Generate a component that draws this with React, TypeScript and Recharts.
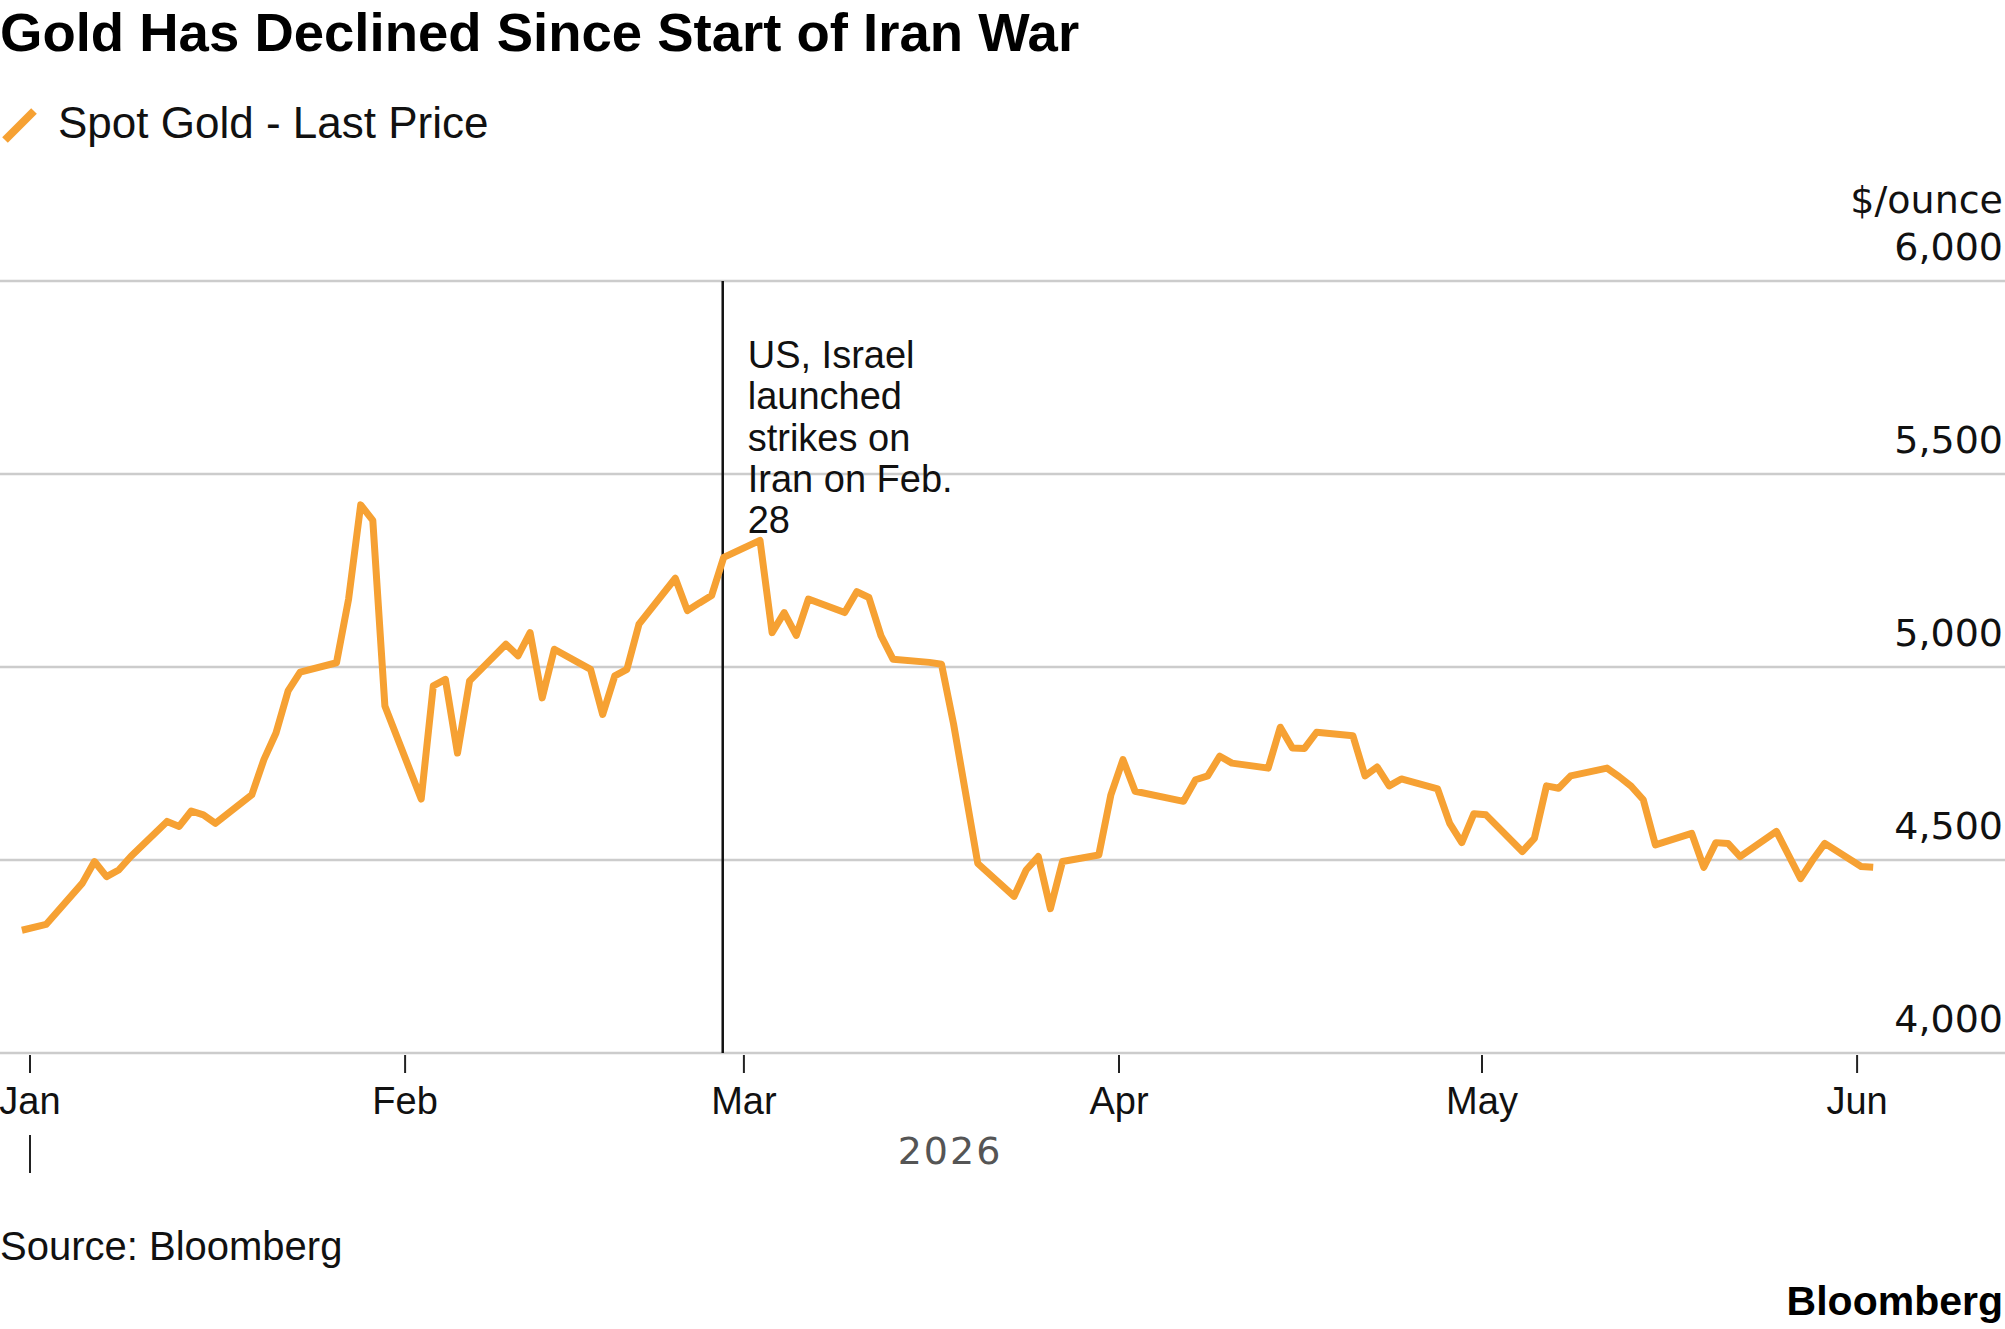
import { LineChart, Line, XAxis, YAxis, CartesianGrid, ReferenceLine } from "recharts";

// Spot gold, last price ($/ounce)
const dates = [
    "2025-12-31", "2026-01-02", "2026-01-05", "2026-01-06", "2026-01-07", "2026-01-08", "2026-01-09",
    "2026-01-12", "2026-01-13", "2026-01-14", "2026-01-15", "2026-01-16", "2026-01-19", "2026-01-20",
    "2026-01-21", "2026-01-22", "2026-01-23", "2026-01-26", "2026-01-27", "2026-01-28", "2026-01-29",
    "2026-01-30", "2026-02-02", "2026-02-03", "2026-02-04", "2026-02-05", "2026-02-06", "2026-02-09",
    "2026-02-10", "2026-02-11", "2026-02-12", "2026-02-13", "2026-02-16", "2026-02-17", "2026-02-18",
    "2026-02-19", "2026-02-20", "2026-02-23", "2026-02-24", "2026-02-25", "2026-02-26", "2026-02-27",
    "2026-03-02", "2026-03-03", "2026-03-04", "2026-03-05", "2026-03-06", "2026-03-09", "2026-03-10",
    "2026-03-11", "2026-03-12", "2026-03-13", "2026-03-16", "2026-03-17", "2026-03-18", "2026-03-19",
    "2026-03-20", "2026-03-23", "2026-03-24", "2026-03-25", "2026-03-26", "2026-03-27", "2026-03-30",
    "2026-03-31", "2026-04-01", "2026-04-02", "2026-04-06", "2026-04-07", "2026-04-08", "2026-04-09",
    "2026-04-10", "2026-04-13", "2026-04-14", "2026-04-15", "2026-04-16", "2026-04-17", "2026-04-20",
    "2026-04-21", "2026-04-22", "2026-04-23", "2026-04-24", "2026-04-27", "2026-04-28", "2026-04-29",
    "2026-04-30", "2026-05-01", "2026-05-04", "2026-05-05", "2026-05-06", "2026-05-07", "2026-05-08",
    "2026-05-11", "2026-05-12", "2026-05-13", "2026-05-14", "2026-05-15", "2026-05-18", "2026-05-19",
    "2026-05-20", "2026-05-21", "2026-05-22", "2026-05-25", "2026-05-26", "2026-05-27", "2026-05-28",
    "2026-05-29", "2026-06-01", "2026-06-02",
];

const prices = [
    4318, 4333, 4440, 4496, 4457, 4474, 4509,
    4600, 4587, 4627, 4617, 4595, 4669, 4760,
    4829, 4938, 4987, 5011, 5176, 5420, 5380,
    4899, 4658, 4951, 4968, 4777, 4964, 5059,
    5029, 5089, 4920, 5046, 4994, 4877, 4977,
    4994, 5111, 5230, 5146, 5166, 5185, 5284,
    5328, 5089, 5141, 5082, 5176, 5141, 5195,
    5180, 5081, 5020, 5012, 5007, 4852, 4672,
    4491, 4406, 4474, 4509, 4374, 4496, 4513,
    4669, 4760, 4678, 4652, 4708, 4718, 4769,
    4751, 4738, 4844, 4790, 4789, 4831, 4822,
    4718, 4741, 4692, 4710, 4684, 4595, 4545,
    4620, 4617, 4522, 4556, 4692, 4686, 4718,
    4738, 4716, 4691, 4656, 4539, 4569, 4481,
    4545, 4543, 4509, 4574, 4513, 4452, 4500,
    4543, 4483, 4481,
];

const monthStarts = ["2026-01-01", "2026-02-01", "2026-03-01", "2026-04-01", "2026-05-01", "2026-06-01"];
const monthLabels = ["Jan", "Feb", "Mar", "Apr", "May", "Jun"];
const priceTicks = [4000, 4500, 5000, 5500, 6000];
const eventDate = "2026-02-27";
const annotationLines = ["US, Israel", "launched", "strikes on", "Iran on Feb.", "28"];

const DAY_MS = 86400000;
const START = Date.UTC(2026, 0, 1);
// prices are stamped a few hours into the day, ticks at midnight
const POINT_SHIFT = 0.33;

const toDay = (s: string) => {
    const [y, m, d] = s.split("-").map(Number);
    return (Date.UTC(y, m - 1, d) - START) / DAY_MS;
};

const chartData = dates.map((d, i) => ({ day: toDay(d) + POINT_SHIFT, price: prices[i] }));
const monthTicks = monthStarts.map(toDay);

const W = 2005;
const H = 1329;
const PX_PER_DAY = 12.1;
const X_START = -30 / PX_PER_DAY;
const X_END = X_START + W / PX_PER_DAY;

const SANS = "'Liberation Sans', Arial, Helvetica, sans-serif";
const WIDE = "'DejaVu Sans', sans-serif";
const ORANGE = "#f6a133";

function MonthTick({ x, y, payload, index }: any) {
    const i = monthTicks.indexOf(payload.value);
    return (
        <g>
            <line x1={x} x2={x} y1={y + 2} y2={y + 20} stroke="#222" strokeWidth={2} />
            <text x={x} y={y + 61} textAnchor="middle" fontFamily={SANS} fontSize={38} fill="#111">
                {monthLabels[i >= 0 ? i : index]}
            </text>
            {i === 0 && <line x1={x} x2={x} y1={y + 82} y2={y + 120} stroke="#222" strokeWidth={2} />}
        </g>
    );
}

// labels sit right-aligned at the page edge, just above each gridline
function PriceTick({ y, payload }: any) {
    return (
        <text x={W - 2} y={y - 21} textAnchor="end" fontFamily={WIDE} fontSize={38} fill="#111">
            {Number(payload.value).toLocaleString("en-US")}
        </text>
    );
}

function Annotation(props: any) {
    const vb = props.viewBox || {};
    return (
        <g>
            {annotationLines.map((line, i) => (
                <text key={i} x={vb.x + 25} y={vb.y + 87 + i * 41.3} fontFamily={SANS} fontSize={38} fill="#111">
                    {line}
                </text>
            ))}
        </g>
    );
}

export default function App() {
    return (
        <div style={{ position: "absolute", left: 0, top: 0, width: W, height: H, background: "#fff", overflow: "hidden" }}>
            <div style={{ position: "absolute", left: 0, top: 0 }}>
                <LineChart width={W} height={H} data={chartData} margin={{ top: 281, right: 0, bottom: 176, left: 0 }}>
                    <CartesianGrid vertical={false} stroke="#cccccc" strokeWidth={2.5} />
                    <XAxis
                        type="number"
                        dataKey="day"
                        domain={[X_START, X_END]}
                        allowDataOverflow
                        ticks={monthTicks}
                        interval={0}
                        height={100}
                        axisLine={false}
                        tickLine={false}
                        tickSize={0}
                        tickMargin={0}
                        tick={<MonthTick />}
                    />
                    <YAxis
                        orientation="right"
                        mirror
                        domain={[4000, 6000]}
                        ticks={priceTicks}
                        interval={0}
                        width={200}
                        axisLine={false}
                        tickLine={false}
                        tickSize={0}
                        tickMargin={0}
                        tick={<PriceTick />}
                    />
                    <ReferenceLine
                        x={toDay(eventDate) + POINT_SHIFT - 0.08}
                        stroke="#111"
                        strokeWidth={2.5}
                        label={(p: any) => <Annotation {...p} />}
                    />
                    <Line
                        type="linear"
                        dataKey="price"
                        stroke={ORANGE}
                        strokeWidth={7}
                        strokeLinejoin="round"
                        dot={false}
                        activeDot={false}
                        isAnimationActive={false}
                    />
                </LineChart>
            </div>
            <svg width={W} height={H} style={{ position: "absolute", left: 0, top: 0, pointerEvents: "none" }}>
                <text x={0} y={51} fontFamily={SANS} fontWeight="bold" fontSize={54.5} fill="#000">
                    Gold Has Declined Since Start of Iran War
                </text>
                <line x1={5} y1={140} x2={34} y2={111} stroke={ORANGE} strokeWidth={8} />
                <text x={58} y={138} fontFamily={SANS} fontSize={44} fill="#111">
                    Spot Gold - Last Price
                </text>
                <text x={W - 2} y={213} textAnchor="end" fontFamily={WIDE} fontSize={38} fill="#111">
                    $/ounce
                </text>
                <text x={950} y={1164} textAnchor="middle" fontFamily={WIDE} fontSize={38} letterSpacing={2} fill="#555">
                    2026
                </text>
                <text x={0} y={1260} fontFamily={SANS} fontSize={40} fill="#111">
                    Source: Bloomberg
                </text>
                <text x={W - 2} y={1315} textAnchor="end" fontFamily={SANS} fontWeight="bold" fontSize={41} fill="#000">
                    Bloomberg
                </text>
            </svg>
        </div>
    );
}
